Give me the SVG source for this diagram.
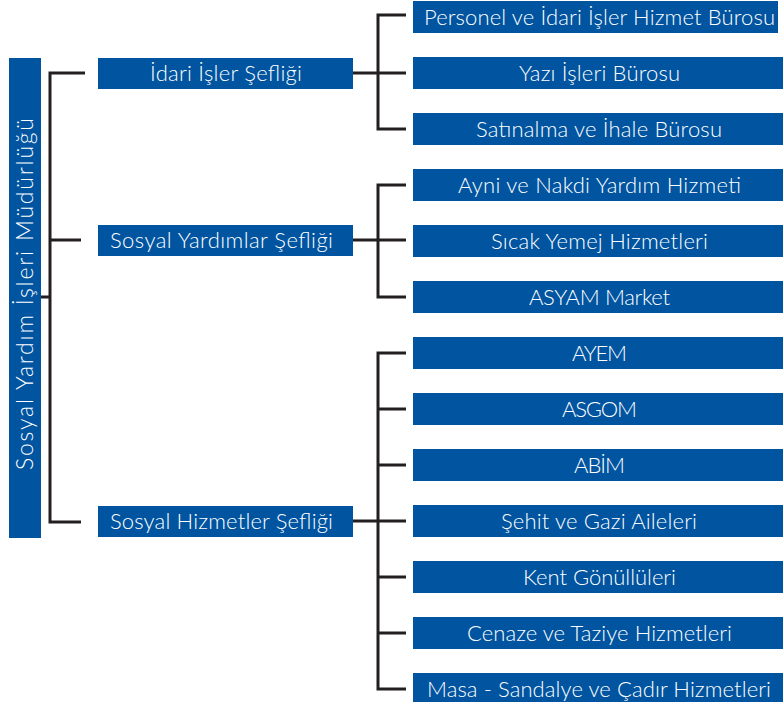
<svg xmlns="http://www.w3.org/2000/svg" width="783" height="702" viewBox="0 0 783 702">
<style>
.box{fill:#0054a0}
.t{fill:#ffffff;font-family:Lato,"Open Sans","Liberation Sans",sans-serif;font-weight:300;font-size:22px;text-anchor:middle;dominant-baseline:central}
.ln{stroke:#231f20;stroke-width:3;fill:none}
</style>
<rect width="783" height="702" fill="#ffffff"/>
<g id="connectors">
<path class="ln" d="M41 297H50M85 73H50V522H81M50 240H81"/>
<path class="ln" d="M353 73H406M406 15H378V129H406"/>
<path class="ln" d="M353 240H406M406 185H378V297H406"/>
<path class="ln" d="M353 521H378M406 353H378V689H406M378 409H406M378 465H406M378 521H406M378 577H406M378 633H406"/>
</g>
<g id="root"><rect class="box" x="9" y="58" width="32" height="480"/><text class="t" transform="translate(24 294) rotate(-90)" style="font-size:23px" textLength="352" lengthAdjust="spacing">Sosyal Yardım İşleri Müdürlüğü</text></g>
<g id="idari"><rect class="box" x="98" y="58" width="255" height="31"/><text class="t" x="226" y="72.5" textLength="152" lengthAdjust="spacing">İdari İşler Şefliği</text></g>
<g id="yardim"><rect class="box" x="98" y="225" width="255" height="31"/><text class="t" x="221.5" y="239.5" textLength="223" lengthAdjust="spacing">Sosyal Yardımlar Şefliği</text></g>
<g id="hizmet"><rect class="box" x="98" y="506" width="255" height="31"/><text class="t" x="221.5" y="520.5" textLength="223" lengthAdjust="spacing">Sosyal Hizmetler Şefliği</text></g>
<g id="n1"><rect class="box" x="413" y="1" width="365" height="32"/><text class="t" x="599.5" y="16" textLength="351" lengthAdjust="spacing">Personel ve İdari İşler Hizmet Bürosu</text></g>
<g id="n2"><rect class="box" x="413" y="57" width="370" height="32"/><text class="t" x="599.5" y="72" textLength="161" lengthAdjust="spacing">Yazı İşleri Bürosu</text></g>
<g id="n3"><rect class="box" x="413" y="113" width="370" height="32"/><text class="t" x="599" y="128" textLength="246" lengthAdjust="spacing">Satınalma ve İhale Bürosu</text></g>
<g id="n4"><rect class="box" x="413" y="169" width="370" height="32"/><text class="t" x="599.5" y="184" textLength="283" lengthAdjust="spacing">Ayni ve Nakdi Yardım Hizmeti</text></g>
<g id="n5"><rect class="box" x="413" y="225" width="370" height="32"/><text class="t" x="599.5" y="240" textLength="217" lengthAdjust="spacing">Sıcak Yemej Hizmetleri</text></g>
<g id="n6"><rect class="box" x="413" y="281" width="370" height="32"/><text class="t" x="599.5" y="296" textLength="141" lengthAdjust="spacing">ASYAM Market</text></g>
<g id="n7"><rect class="box" x="413" y="337" width="370" height="32"/><text class="t" x="599.5" y="352" textLength="55" lengthAdjust="spacing">AYEM</text></g>
<g id="n8"><rect class="box" x="413" y="393" width="370" height="32"/><text class="t" x="599.5" y="408" textLength="75" lengthAdjust="spacing">ASGOM</text></g>
<g id="n9"><rect class="box" x="413" y="449" width="370" height="32"/><text class="t" x="599.5" y="464" textLength="51" lengthAdjust="spacing">ABİM</text></g>
<g id="n10"><rect class="box" x="413" y="505" width="370" height="32"/><text class="t" x="599" y="520" textLength="196" lengthAdjust="spacing">Şehit ve Gazi Aileleri</text></g>
<g id="n11"><rect class="box" x="413" y="561" width="370" height="32"/><text class="t" x="599.5" y="576" textLength="153" lengthAdjust="spacing">Kent Gönüllüleri</text></g>
<g id="n12"><rect class="box" x="413" y="617" width="370" height="32"/><text class="t" x="599.5" y="632" textLength="265" lengthAdjust="spacing">Cenaze ve Taziye Hizmetleri</text></g>
<g id="n13"><rect class="box" x="413" y="673" width="370" height="32"/><text class="t" x="599" y="688" textLength="344" lengthAdjust="spacing">Masa - Sandalye ve Çadır Hizmetleri</text></g>
</svg>
